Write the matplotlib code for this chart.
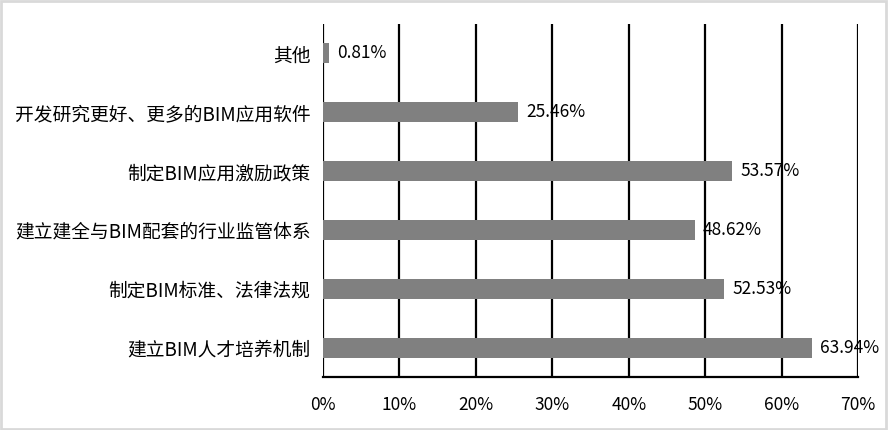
import matplotlib.pyplot as plt
from matplotlib.patches import Rectangle

plt.rcParams['font.family'] = ['Noto Sans CJK SC', 'DejaVu Sans']

# bottom to top
categories = ['建立BIM人才培养机制', '制定BIM标准、法律法规', '建立建全与BIM配套的行业监管体系',
              '制定BIM应用激励政策', '开发研究更好、更多的BIM应用软件', '其他']
values = [63.94, 52.53, 48.62, 53.57, 25.46, 0.81]
xticks = [0, 10, 20, 30, 40, 50, 60, 70]

fig = plt.figure(figsize=(8.88, 4.30), dpi=100)
ax = fig.add_axes([323 / 888, 1 - 377 / 430, 535 / 888, 353 / 430])

pos = list(range(len(categories)))
ax.barh(pos, values, height=0.34, color='#808080', zorder=3)
for p, v in zip(pos, values):
    ax.annotate(f'{v:.2f}%', (v, p), xytext=(6, 0), textcoords='offset points',
                va='center', ha='left', fontsize=12.5, color='black', zorder=4)

ax.set_xlim(0, 70)
ax.set_ylim(-0.5, len(categories) - 0.5)
ax.set_xticks(xticks)
ax.set_xticklabels([f'{t}%' for t in xticks], fontsize=12.5)
ax.set_yticks(pos)
ax.set_yticklabels(categories, fontsize=13.5)
ax.tick_params(axis='x', length=0, pad=14)
ax.tick_params(axis='y', length=0, pad=9)
for t in xticks:
    ax.axvline(t, color='black', linewidth=1.6, zorder=2)
for s in ['top', 'right', 'left']:
    ax.spines[s].set_visible(False)
ax.spines['bottom'].set_linewidth(1.6)
ax.spines['bottom'].set_zorder(2)

fig.patches.append(Rectangle((0.001, 0.002), 0.997, 0.995, transform=fig.transFigure,
                             fill=False, edgecolor='#d9d9d9', linewidth=2))

fig.savefig('out.png', dpi=100)
